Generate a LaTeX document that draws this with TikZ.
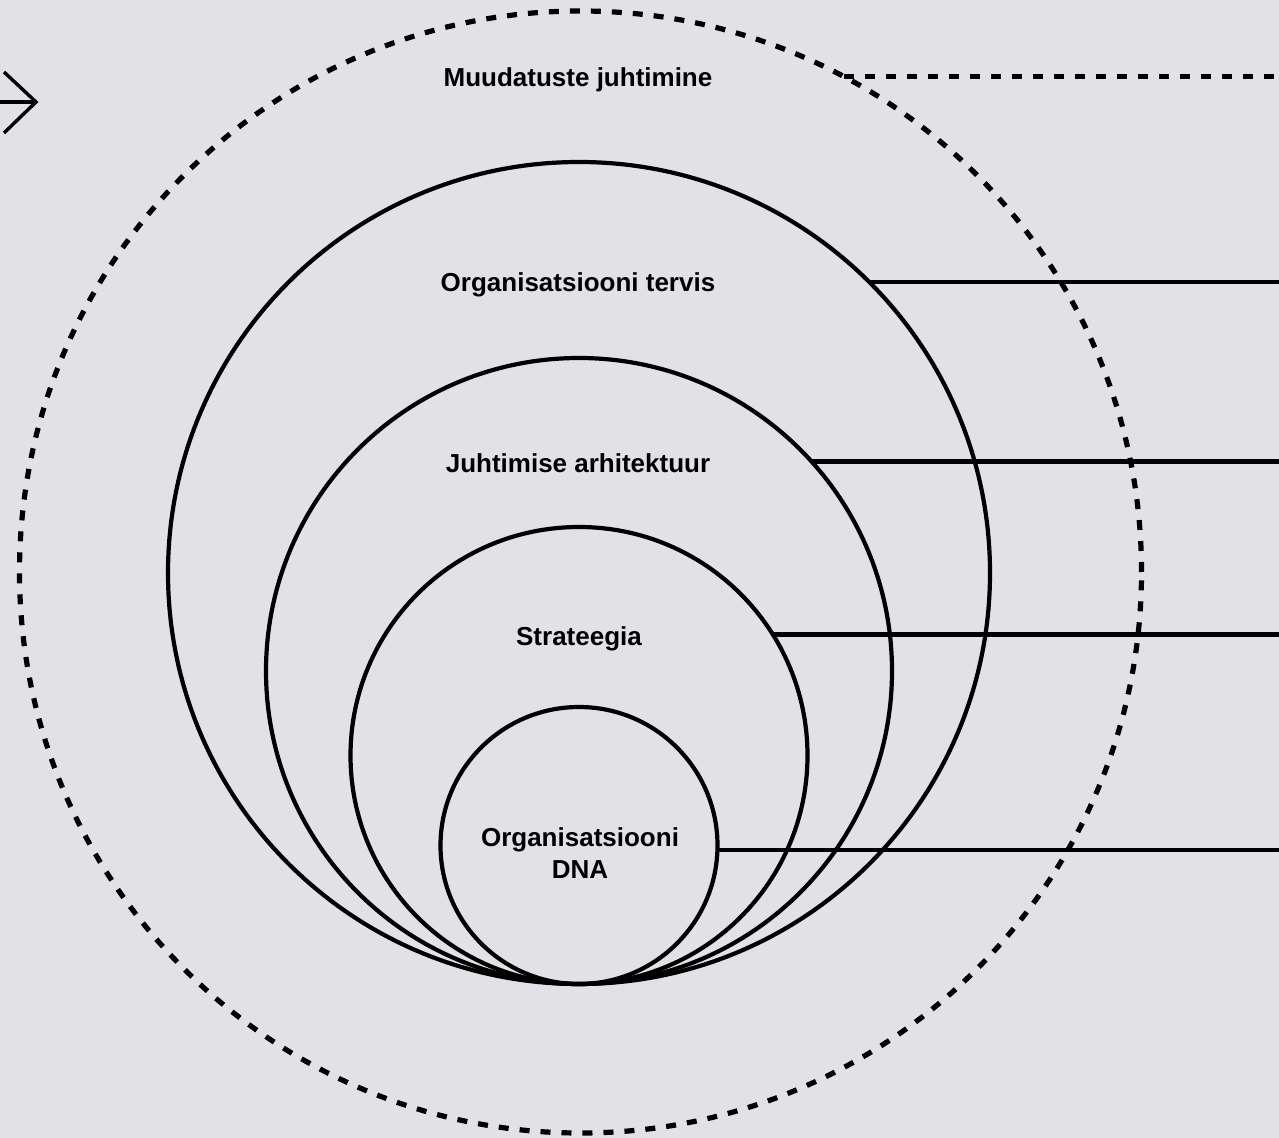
\documentclass[tikz,border=0pt]{standalone}
\usepackage{fontspec}
\setmainfont{Liberation Sans}
\usetikzlibrary{backgrounds}
\definecolor{paper}{RGB}{226,226,230}

\begin{document}
\begin{tikzpicture}[x=0.5pt, y=-0.5pt,
    background rectangle/.style={fill=paper}, show background rectangle,
    ring/.style={circle, draw, line width=2.1pt, inner sep=0pt, outer sep=0pt},
    dashring/.style={circle, draw, line width=2.6pt, dash pattern=on 5pt off 5.5pt, inner sep=0pt, outer sep=0pt},
    lbl/.style={font=\bfseries\fontsize{13}{16}\selectfont, align=center, anchor=base},
    lead/.style={line width=2.1pt},
    dashlead/.style={line width=2.6pt, dash pattern=on 5pt off 5.5pt}]
\useasboundingbox (0,0) rectangle (1279,1138);

% rings --- (all touch at the bottom)
\node [dashring, minimum size=561pt] (muutus) at (580.5,572) {};
\node [ring, minimum size=411pt] (tervis) at (579,573) {};
\node [ring, minimum size=313pt] (arhit) at (579,671) {};
\node [ring, minimum size=228.5pt] (strat) at (579,755.5) {};
\node [ring, minimum size=138.5pt] (dna) at (579,845.5) {};

% labels ---
\node [lbl] (muutusT) at (578,87) {Muudatuste juhtimine};
\node [lbl] (tervisT) at (578,291.5) {Organisatsiooni tervis};
\node [lbl] (arhitT) at (578,472.5) {Juhtimise arhitektuur};
\node [lbl] (stratT) at (579,645.5) {Strateegia};
\node [lbl, anchor=center] (dnaT) at (580,853) {Organisatsiooni \\ DNA};

% lines out to the right edge
\coordinate (edge) at (1290,0);
\draw [dashlead] (muutus.62) -- (muutus.62 -| edge);
\draw [lead] (tervis.45.7) -- (tervis.45.7 -| edge);
\draw [lead] (arhit.42.4) -- (arhit.42.4 -| edge);
\draw [lead] (strat.32.1) -- (strat.32.1 -| edge);
\draw [lead] (dna.-2.3) -- (dna.-2.3 -| edge);

% cut off arrow, top left
\coordinate (tip) at (36,102);
\coordinate (tail) at (-10,102);
\draw [line width=1.7pt] (tail) -- (tip);
\draw [line width=1.7pt, line join=miter] (4,72) -- (tip) -- (4,133);

\end{tikzpicture}
\end{document}
